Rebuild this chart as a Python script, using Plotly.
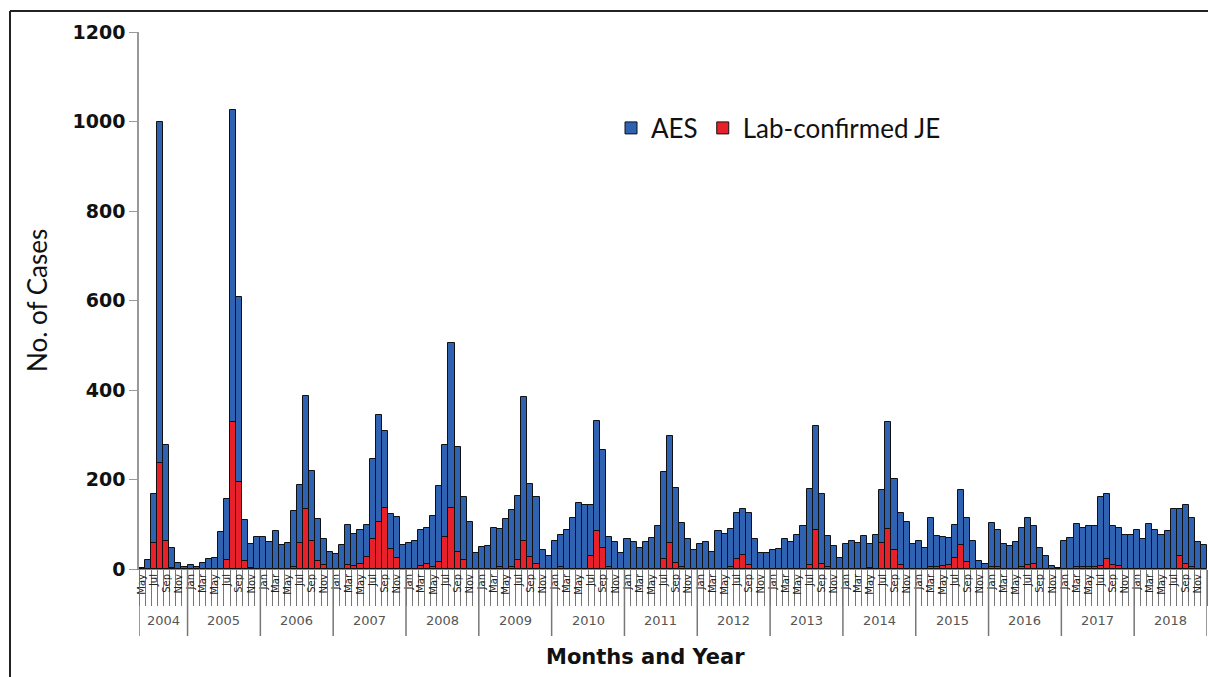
import plotly.graph_objects as go

month_names = ["Jan", "Feb", "Mar", "Apr", "May", "Jun", "Jul", "Aug", "Sep", "Oct", "Nov", "Dec"]
years = list(range(2004, 2019))
first_month_2004 = 4  # data start in May 2004

aes_2004 = [2, 20, 168, 1000, 278, 48, 13, 5]
aes_2005 = [10, 5, 13, 22, 25, 82, 156, 1025, 607, 110, 56, 72]
aes_2006 = [71, 60, 84, 53, 57, 130, 188, 386, 219, 112, 68, 37]
aes_2007 = [34, 54, 98, 78, 87, 99, 245, 344, 308, 124, 116, 53]
aes_2008 = [59, 63, 87, 91, 118, 186, 277, 506, 272, 162, 104, 36]
aes_2009 = [50, 51, 91, 89, 112, 132, 163, 384, 191, 162, 43, 28]
aes_2010 = [63, 77, 87, 114, 147, 144, 144, 331, 266, 72, 61, 36]
aes_2011 = [66, 61, 48, 61, 69, 97, 217, 298, 181, 103, 66, 42]
aes_2012 = [56, 61, 39, 84, 79, 90, 125, 135, 125, 66, 35, 35]
aes_2013 = [42, 45, 66, 61, 77, 95, 178, 319, 168, 74, 51, 25]
aes_2014 = [56, 63, 57, 74, 56, 77, 177, 329, 201, 126, 104, 56]
aes_2015 = [63, 48, 113, 73, 72, 69, 98, 176, 113, 62, 17, 11]
aes_2016 = [103, 87, 56, 51, 61, 91, 115, 95, 48, 28, 7, 2]
aes_2017 = [62, 69, 101, 92, 95, 95, 160, 168, 97, 92, 76, 76]
aes_2018 = [87, 66, 101, 87, 77, 84, 134, 133, 144, 113, 61, 54]

je_2004 = [0, 0, 58, 236, 62, 3, 0, 0]
je_2005 = [0, 0, 0, 0, 0, 0, 20, 329, 194, 19, 3, 0]
je_2006 = [0, 0, 0, 0, 0, 5, 58, 133, 63, 17, 10, 0]
je_2007 = [0, 0, 8, 6, 12, 27, 68, 106, 137, 44, 24, 0]
je_2008 = [0, 0, 7, 11, 4, 15, 72, 137, 39, 20, 0, 0]
je_2009 = [0, 0, 0, 4, 0, 5, 20, 63, 26, 11, 0, 0]
je_2010 = [0, 4, 0, 0, 0, 0, 30, 84, 48, 4, 0, 0]
je_2011 = [0, 0, 0, 0, 0, 0, 22, 59, 13, 4, 0, 0]
je_2012 = [0, 0, 0, 0, 0, 4, 22, 31, 9, 0, 0, 0]
je_2013 = [0, 0, 0, 0, 0, 0, 10, 87, 11, 4, 0, 0]
je_2014 = [0, 0, 0, 0, 2, 0, 58, 89, 43, 10, 0, 0]
je_2015 = [0, 0, 4, 4, 6, 9, 25, 54, 16, 0, 0, 0]
je_2016 = [4, 4, 0, 0, 0, 4, 9, 11, 1, 0, 0, 0]
je_2017 = [0, 0, 4, 4, 4, 4, 7, 22, 9, 7, 1, 0]
je_2018 = [0, 0, 0, 0, 0, 0, 0, 28, 11, 5, 0, 0]

aes_by_year = [aes_2004, aes_2005, aes_2006, aes_2007, aes_2008, aes_2009, aes_2010, aes_2011,
               aes_2012, aes_2013, aes_2014, aes_2015, aes_2016, aes_2017, aes_2018]
je_by_year = [je_2004, je_2005, je_2006, je_2007, je_2008, je_2009, je_2010, je_2011,
              je_2012, je_2013, je_2014, je_2015, je_2016, je_2017, je_2018]

cats, mon_of_cat, aes, je = [], [], [], []
year_start_idx = []
for yr, a_list, j_list in zip(years, aes_by_year, je_by_year):
    start_m = first_month_2004 if yr == 2004 else 0
    year_start_idx.append(len(cats))
    for k, (a, j) in enumerate(zip(a_list, j_list)):
        m = start_m + k
        cats.append(f"{month_names[m]} {yr}")
        mon_of_cat.append(m)
        aes.append(a)
        je.append(j)
n = len(cats)

tick_text = [month_names[m] if m % 2 == 0 else "" for m in mon_of_cat]

BLUE = "#2F63B2"
RED = "#E8202A"

fig = go.Figure()
fig.add_trace(go.Bar(x=cats, y=aes, name="AES", marker=dict(color=BLUE, line=dict(color="#111", width=1))))
fig.add_trace(go.Bar(x=cats, y=[v if v else None for v in je], name="Lab-confirmed JE",
                     marker=dict(color=RED, line=dict(color="#111", width=1))))

L, R, T, B = 139, 1, 32, 108
W, H = 1208, 677
pw, ph = W - L - R, H - T - B

def px_x(p):
    return (p - L) / pw

def px_y(p):
    return (H - B - p) / ph

shapes = []
# year separators
bounds = year_start_idx + [n]
for b in bounds:
    shapes.append(dict(type="line", xref="x", yref="paper", x0=b - 0.5, x1=b - 0.5,
                       y0=0, y1=px_y(636), line=dict(color="#777", width=1.5)))
# outer frame
shapes.append(dict(type="line", xref="paper", yref="paper", x0=px_x(10), x1=px_x(1208),
                   y0=px_y(11), y1=px_y(11), line=dict(color="#222", width=2)))
shapes.append(dict(type="line", xref="paper", yref="paper", x0=px_x(10), x1=px_x(10),
                   y0=px_y(11), y1=px_y(677), line=dict(color="#222", width=2)))

annotations = []
for i, yr in enumerate(years):
    s, e = bounds[i], bounds[i + 1]
    annotations.append(dict(text=str(yr), xref="x", yref="paper", x=(s + e - 1) / 2, y=px_y(620),
                            showarrow=False, font=dict(family="DejaVu Sans", size=13, color="#555"),
                            xanchor="center", yanchor="middle"))
annotations.append(dict(text="No. of Cases", xref="paper", yref="paper", x=px_x(37), y=px_y(301),
                        textangle=-90, showarrow=False, xanchor="center", yanchor="middle",
                        font=dict(family="Lato", size=26, color="#111")))
annotations.append(dict(text="<b>Months and Year</b>", xref="paper", yref="paper", x=px_x(645), y=px_y(657),
                        showarrow=False, xanchor="center", yanchor="middle",
                        font=dict(family="DejaVu Sans", size=21, color="#111")))

fig.update_layout(
    width=W, height=H,
    margin=dict(l=L, r=R, t=T, b=B),
    paper_bgcolor="white", plot_bgcolor="white",
    barmode="overlay", bargap=0,
    showlegend=True,
    legend=dict(orientation="h", x=px_x(611), y=px_y(128), xanchor="left", yanchor="middle",
                font=dict(family="Lato", size=26, color="#111"), bgcolor="rgba(0,0,0,0)",
                itemwidth=30, tracegroupgap=0),
    shapes=shapes,
    annotations=annotations,
    xaxis=dict(type="category", range=[-0.5, n - 0.5], tickmode="array", tickvals=cats, ticktext=tick_text,
               tickson="boundaries", ticks="outside", ticklen=36, tickcolor="#777", tickwidth=1,
               tickangle=-90, tickfont=dict(family="DejaVu Sans", size=10, color="#222"),
               showline=True, linecolor="#888", linewidth=1, showgrid=False, zeroline=False),
    yaxis=dict(range=[0, 1200], tickvals=[0, 200, 400, 600, 800, 1000, 1200],
               ticks="outside", ticklen=8, tickcolor="#999", showline=True, linecolor="#999", linewidth=1.5,
               showgrid=False, zeroline=False,
               tickfont=dict(family="DejaVu Sans", size=19, color="#111", weight="bold")),
)

fig.write_html("out.html", config={"displayModeBar": False},
               post_script="document.body.style.margin='0';document.body.style.overflow='hidden';")
